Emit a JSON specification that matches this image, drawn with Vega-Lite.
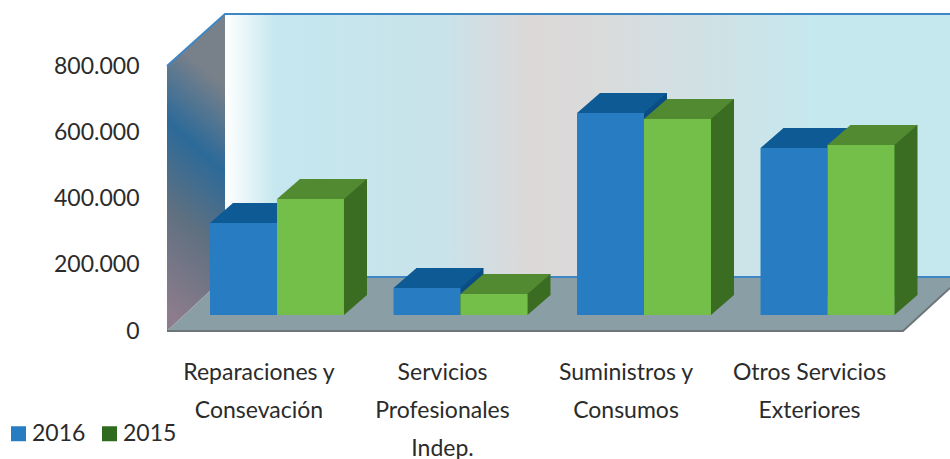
{
"$schema":"https://vega.github.io/schema/vega-lite/v6.json",
"width":783,"height":265,
"autosize":"none",
"padding":{"left":167,"top":66,"right":0,"bottom":128},
"background":"white",
"view":{"stroke":null},
"data":{"values":[
{"categoria":"Reparaciones y Consevación","serie":"2016","valor":278000},
{"categoria":"Reparaciones y Consevación","serie":"2015","valor":350000},
{"categoria":"Servicios Profesionales Indep.","serie":"2016","valor":81500},
{"categoria":"Servicios Profesionales Indep.","serie":"2015","valor":63400},
{"categoria":"Suministros y Consumos","serie":"2016","valor":610000},
{"categoria":"Suministros y Consumos","serie":"2015","valor":592000},
{"categoria":"Otros Servicios Exteriores","serie":"2016","valor":504000},
{"categoria":"Otros Servicios Exteriores","serie":"2015","valor":513000}
]},
"layer":[
{"data":{"values":[{"parte":"pared"}]},
 "mark":{"type":"point","filled":true,"opacity":1,"size":4,"shape":"M-333.5,-317L391.5,-317L391.5,-54L-333.5,-54Z",
  "fill":{"gradient":"linear","x1":0,"y1":0,"x2":1,"y2":0,"stops":[{"offset":0,"color":"#ffffff"},{"offset":0.07,"color":"#c5e7ef"},{"offset":0.3,"color":"#c9e3ea"},{"offset":0.42,"color":"#dcd8d8"},{"offset":0.5,"color":"#dbdada"},{"offset":0.82,"color":"#c5e8ef"},{"offset":1,"color":"#c5e8ef"}]}},
 "encoding":{"y":{"datum":0,"type":"quantitative","title":null,"scale":{"domain":[0,800000],"nice":false}}}},
{"data":{"values":[{"parte":"lateral"}]},
 "mark":{"type":"point","filled":true,"opacity":1,"size":4,"shape":"M-391.5,-265L-333.5,-317L-333.5,-54L-391.5,0Z",
  "fill":{"gradient":"linear","x1":0.58,"y1":0,"x2":0.42,"y2":1,"stops":[{"offset":0,"color":"#78808a"},{"offset":0.16,"color":"#78808a"},{"offset":0.42,"color":"#2c6a99"},{"offset":0.68,"color":"#5f7080"},{"offset":1,"color":"#8c7c8c"}]}},
 "encoding":{"y":{"datum":0,"type":"quantitative","title":null,"scale":{"domain":[0,800000],"nice":false}}}},
{"data":{"values":[{"parte":"suelo"}]},
 "mark":{"type":"point","filled":true,"opacity":1,"size":4,"fill":"#8a9fa5","shape":"M-391.5,0L-333.5,-54L391.5,-54L391.5,-43L344.5,0Z"},
 "encoding":{"y":{"datum":0,"type":"quantitative","title":null,"scale":{"domain":[0,800000],"nice":false}}}},
{"data":{"values":[{"parte":"borde"}]},
 "mark":{"type":"point","filled":false,"opacity":1,"size":4,"stroke":"#3f86c4","strokeWidth":2,"shape":"M-391.5,-265L-333.5,-317L391.5,-317M-333.5,-54L391.5,-54"},
 "encoding":{"y":{"datum":0,"type":"quantitative","title":null,"scale":{"domain":[0,800000],"nice":false}}}},
{"data":{"values":[{"parte":"borde suelo"}]},
 "mark":{"type":"point","filled":false,"opacity":1,"size":4,"stroke":"#6e7578","strokeWidth":2,"shape":"M-391.5,0L344.5,0L391.5,-43"},
 "encoding":{"y":{"datum":0,"type":"quantitative","title":null,"scale":{"domain":[0,800000],"nice":false}}}},
{"encoding":{
  "x":{"field":"categoria","type":"nominal","title":null,
    "scale":{"type":"band","domain":["Reparaciones y Consevación","Servicios Profesionales Indep.","Suministros y Consumos","Otros Servicios Exteriores"],"range":[18.25,752.25],"paddingInner":0.27,"paddingOuter":0.135},
    "axis":{"domain":false,"ticks":false,"grid":false,"labelAngle":0,"labelOffset":-18,"labelPadding":30,"labelFont":"Lato","labelFontSize":23,"labelColor":"#2b2b2b","labelLineHeight":38,"labelOverlap":false,"labelBound":false,"labelFlush":false,"labelLimit":400,
      "labelExpr":"datum.value=='Reparaciones y Consevación'?['Reparaciones y','Consevación']:datum.value=='Servicios Profesionales Indep.'?['Servicios','Profesionales','Indep.']:datum.value=='Suministros y Consumos'?['Suministros y','Consumos']:['Otros Servicios','Exteriores']"}},
  "xOffset":{"field":"serie","type":"nominal","scale":{"domain":["2016","2015"],"paddingInner":0,"paddingOuter":0}},
  "y":{"field":"valor","type":"quantitative","title":null,"scale":{"domain":[0,800000],"nice":false},
    "axis":{"values":[0,200000,400000,600000,800000],"domain":false,"ticks":false,"grid":false,"labelPadding":28,"labelFont":"Lato","labelFontSize":23,"labelColor":"#2b2b2b","labelExpr":"replace(format(datum.value,','),',','.')"}}
 },
 "layer":[
  {"transform":[{"filter":"datum.serie=='2016'"}],"mark":{"type":"bar","fill":"#0a4c84","width":67,"xOffset":-10.5,"yOffset":-36,"y2Offset":-36},"encoding":{"xOffset":null,"y2":{"datum":0}}},
  {"transform":[{"filter":"datum.serie=='2016'"}],"mark":{"type":"point","filled":true,"opacity":1,"size":4,"fill":"#0a4c84","yOffset":-16,"shape":"M33.5,0L56.5,-20L33.5,-20Z"},"encoding":{"y":{"datum":0,"type":"quantitative"}}},
  {"transform":[{"filter":"datum.serie=='2016'"}],"mark":{"type":"point","filled":true,"opacity":1,"size":4,"fill":"#0e5a94","yOffset":-16,"shape":"M-33.5,0L-10.5,-20L56.5,-20L33.5,0Z"}},
  {"transform":[{"filter":"datum.serie=='2016'"}],"mark":{"type":"bar","yOffset":-16,"y2Offset":-16},"encoding":{"y2":{"datum":0},"color":{"field":"serie","type":"nominal","title":null,"scale":{"domain":["2016","2015"],"range":["#287cc2","#2f6b1f"]},
     "legend":{"orient":"none","legendX":-160,"legendY":356,"direction":"horizontal","columns":2,"symbolType":"square","symbolSize":225,"symbolStrokeWidth":0,"labelFont":"Lato","labelFontSize":23,"labelColor":"#2b2b2b","padding":0,"columnPadding":12,"labelOffset":2}}}},
  {"transform":[{"filter":"datum.serie=='2015'"}],"mark":{"type":"bar","fill":"#3a6c22","width":67,"xOffset":56.5,"yOffset":-36,"y2Offset":-36},"encoding":{"xOffset":null,"y2":{"datum":0}}},
  {"transform":[{"filter":"datum.serie=='2015'"}],"mark":{"type":"point","filled":true,"opacity":1,"size":4,"fill":"#3a6c22","yOffset":-16,"shape":"M33.5,0L56.5,-20L33.5,-20Z"},"encoding":{"y":{"datum":0,"type":"quantitative"}}},
  {"transform":[{"filter":"datum.serie=='2015'"}],"mark":{"type":"point","filled":true,"opacity":1,"size":4,"fill":"#528a31","yOffset":-16,"shape":"M-33.5,0L-10.5,-20L56.5,-20L33.5,0Z"}},
  {"transform":[{"filter":"datum.serie=='2015'"}],"mark":{"type":"bar","yOffset":-16,"y2Offset":-16},"encoding":{"y2":{"datum":0},"color":{"field":"serie","type":"nominal","title":null,"scale":{"domain":["2016","2015"],"range":["#287cc2","#2f6b1f"]}}}},
  {"transform":[{"filter":"datum.serie=='2015'"}],"mark":{"type":"bar","fill":"#73bf49","yOffset":-16,"y2Offset":-16},"encoding":{"y2":{"datum":0}}}
 ]}
]
}
